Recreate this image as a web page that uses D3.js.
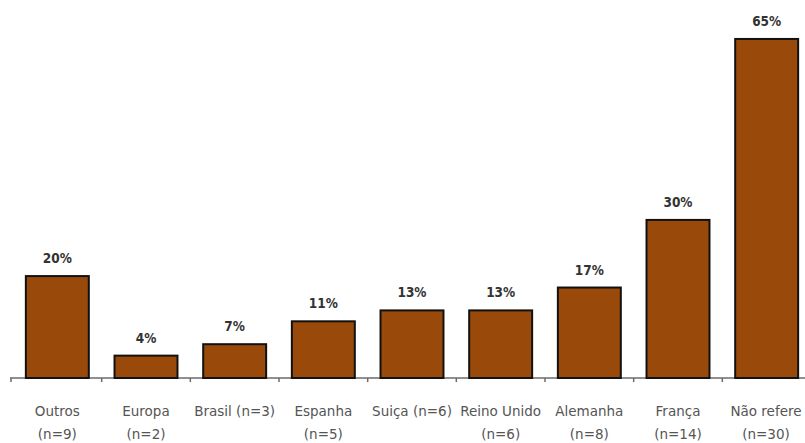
<!DOCTYPE html>
<html>
<head>
<meta charset="utf-8">
<script src="https://cdn.jsdelivr.net/npm/d3@7"></script>
<style>
  html, body { margin: 0; padding: 0; background: #fff; overflow: hidden; }
  svg { display: block; }
</style>
</head>
<body>
<svg id="chart" width="805" height="443"></svg>
<script>
const categories = ["Outros", "Europa", "Brasil", "Espanha", "Suiça", "Reino Unido", "Alemanha", "França", "Não refere"];
const labelLines = [
  ["Outros", "(n=9)"],
  ["Europa", "(n=2)"],
  ["Brasil (n=3)"],
  ["Espanha", "(n=5)"],
  ["Suiça (n=6)"],
  ["Reino Unido", "(n=6)"],
  ["Alemanha", "(n=8)"],
  ["França", "(n=14)"],
  ["Não refere", "(n=30)"]
];
const values = [19.6, 4.3, 6.5, 10.9, 13.0, 13.0, 17.4, 30.4, 65.2];
const valueLabels = ["20%", "4%", "7%", "11%", "13%", "13%", "17%", "30%", "65%"];

const svg = d3.select("#chart");
const x = d3.scaleBand().domain(categories).range([13, 811]).paddingInner(0.29).paddingOuter(0.145);
const y = d3.scaleLinear().domain([0, 65]).range([378, 40]);

// axis line
svg.append("line")
  .attr("x1", 10).attr("x2", 805)
  .attr("y1", y(0)).attr("y2", y(0))
  .attr("stroke", "#6b6b6b").attr("stroke-width", 1.5);

// ticks between bands
const tickPos = categories.map(c => x(c) - x.step() * x.paddingInner() / 2);
tickPos[0] = 11;
svg.selectAll("line.tick").data(tickPos).enter().append("line")
  .attr("class", "tick")
  .attr("x1", d => d).attr("x2", d => d)
  .attr("y1", y(0)).attr("y2", y(0) + 4)
  .attr("stroke", "#6b6b6b").attr("stroke-width", 1.5);

// bars
svg.selectAll("rect.bar").data(values).enter().append("rect")
  .attr("class", "bar")
  .attr("x", (d, i) => x(categories[i]))
  .attr("width", x.bandwidth())
  .attr("y", d => y(d))
  .attr("height", d => y(0) - y(d))
  .attr("fill", "#994a0a")
  .attr("stroke", "#111")
  .attr("stroke-width", 2);

// value labels
svg.selectAll("text.val").data(values).enter().append("text")
  .attr("class", "val")
  .attr("x", (d, i) => x(categories[i]) + x.bandwidth() / 2)
  .attr("y", d => y(d) - 13)
  .attr("text-anchor", "middle")
  .attr("font-family", "DejaVu Sans Condensed, sans-serif")
  .attr("font-weight", "bold")
  .attr("font-size", 13.5)
  .attr("fill", "#333")
  .text((d, i) => valueLabels[i]);

// category labels
const g = svg.selectAll("text.cat").data(categories).enter().append("text")
  .attr("class", "cat")
  .attr("text-anchor", "middle")
  .attr("font-family", "DejaVu Sans, sans-serif")
  .attr("font-size", 13.5)
  .attr("fill", "#555");
g.each(function(c, i) {
  const t = d3.select(this);
  labelLines[i].forEach((ln, j) => {
    t.append("tspan")
      .attr("x", Math.min(x(c) + x.bandwidth() / 2, 766))
      .attr("y", 416 + j * 23)
      .text(ln);
  });
});
</script>
</body>
</html>
